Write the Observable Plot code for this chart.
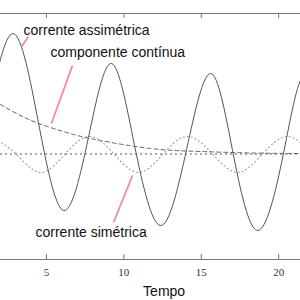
<!DOCTYPE html>
<html><head><meta charset="utf-8">
<script src="https://cdn.jsdelivr.net/npm/d3@7"></script>
<script src="https://cdn.jsdelivr.net/npm/@observablehq/plot@0.6"></script>
<style>html,body{margin:0;padding:0;background:#fff;} svg{display:block;}</style>
</head><body><div id="chart"></div>
<script>
// x-axis ticks and label
const xTicks = [5, 10, 15, 20];
const xLabel = "Tempo";
const xLabelAt = [12.6];

// corrente assimétrica (solid)
const asymX = [-0.27, 1.25, 2.85, 4.48, 6.10, 7.71, 9.20, 10.69, 12.37, 14.05, 15.60, 17.02, 18.63, 20.31, 21.75, 23.35];
const asymY = [-0.35, 0.45, 1.205, 0.315, -0.565, 0.165, 0.905, 0.085, -0.715, 0.045, 0.805, 0.035, -0.765, 0.005, 0.80, 0.0];

// componente contínua (dashed)
const dcX = [2.03, 3.65, 5.26, 6.87, 8.49, 11.72, 14.95, 18.18, 21.41];
const dcY = [0.495, 0.36, 0.265, 0.19, 0.135, 0.055, 0.025, 0.01, 0.005];

// corrente simétrica (dotted)
const symX = [1.45, 3.03, 4.61, 6.20, 7.78, 9.36, 10.94, 12.53, 14.11, 15.73, 17.34, 18.95, 20.57, 22.12];
const symY = [0.175, 0, -0.185, 0, 0.175, 0, -0.185, 0, 0.175, 0, -0.185, 0, 0.175, 0];

// annotations
const labelText = ["corrente assimétrica", "componente contínua", "corrente simétrica"];
const labelX = [3.52, 5.26, 4.29];
const labelY = [1.23, 1.01, -0.79];
const pointerX1 = [3.84, 6.68, 10.56];
const pointerY1 = [1.175, 0.885, -0.215];
const pointerX2 = [3.39, 5.32, 9.33];
const pointerY2 = [1.075, 0.305, -0.685];

const xDomain = [2.03, 21.41];
const yDomain = [-1.055, 1.405];

const asym = asymX.map((x, i) => ({x, y: asymY[i]}));
const dc = dcX.map((x, i) => ({x, y: dcY[i]}));
const sym = symX.map((x, i) => ({x, y: symY[i]}));
const labels = labelText.map((t, i) => ({t, x: labelX[i], y: labelY[i]}));
const pointers = pointerX1.map((x1, i) => ({x1, y1: pointerY1[i], x2: pointerX2[i], y2: pointerY2[i]}));

const H = 300, MT = 13, MB = 41;
const frameH = H - MT - MB;

const chart = Plot.plot({
  width: 300, height: H,
  marginLeft: 0, marginRight: 0, marginTop: MT, marginBottom: MB,
  style: {background: "#fff", overflow: "visible"},
  x: {domain: xDomain, axis: null},
  y: {domain: yDomain, axis: null},
  marks: [
    Plot.ruleY([0], {stroke: "#444", strokeDasharray: "2,3", strokeWidth: 0.9}),
    Plot.line(sym, {x: "x", y: "y", curve: "natural", stroke: "#999", strokeDasharray: "1,3", strokeWidth: 1.1, clip: true}),
    Plot.line(dc, {x: "x", y: "y", curve: "natural", stroke: "#666", strokeDasharray: "4,3", strokeWidth: 1, clip: true}),
    Plot.line(asym, {x: "x", y: "y", curve: "natural", stroke: "#555", strokeWidth: 1, clip: true}),
    Plot.link(pointers, {x1: "x1", y1: "y1", x2: "x2", y2: "y2", stroke: "#f28a9c", strokeWidth: 1.8}),
    Plot.text(labels, {x: "x", y: "y", text: "t", textAnchor: "start", fontFamily: "Liberation Sans, Arial, sans-serif", fontSize: 14, fill: "#111"}),
    Plot.ruleY([yDomain[0]], {stroke: "#777", strokeWidth: 1}),
    Plot.ruleY([yDomain[1]], {stroke: "#777", strokeWidth: 1}),
    Plot.tickX(xTicks, {x: d => d, stroke: "#777", insetTop: frameH - 5}),
    Plot.tickX(xTicks, {x: d => d, stroke: "#777", insetBottom: frameH - 5}),
    Plot.axisX(xTicks, {tickSize: 0, tickPadding: 9, fontFamily: "Liberation Serif, Times New Roman, serif", fontSize: 11, fill: "#333"}),
    Plot.text(xLabelAt, {x: d => d, text: () => xLabel, frameAnchor: "bottom", dy: 36, fontFamily: "Liberation Sans, Arial, sans-serif", fontSize: 14, fill: "#111"})
  ]
});
document.getElementById("chart").appendChild(chart);
</script>
</body></html>
